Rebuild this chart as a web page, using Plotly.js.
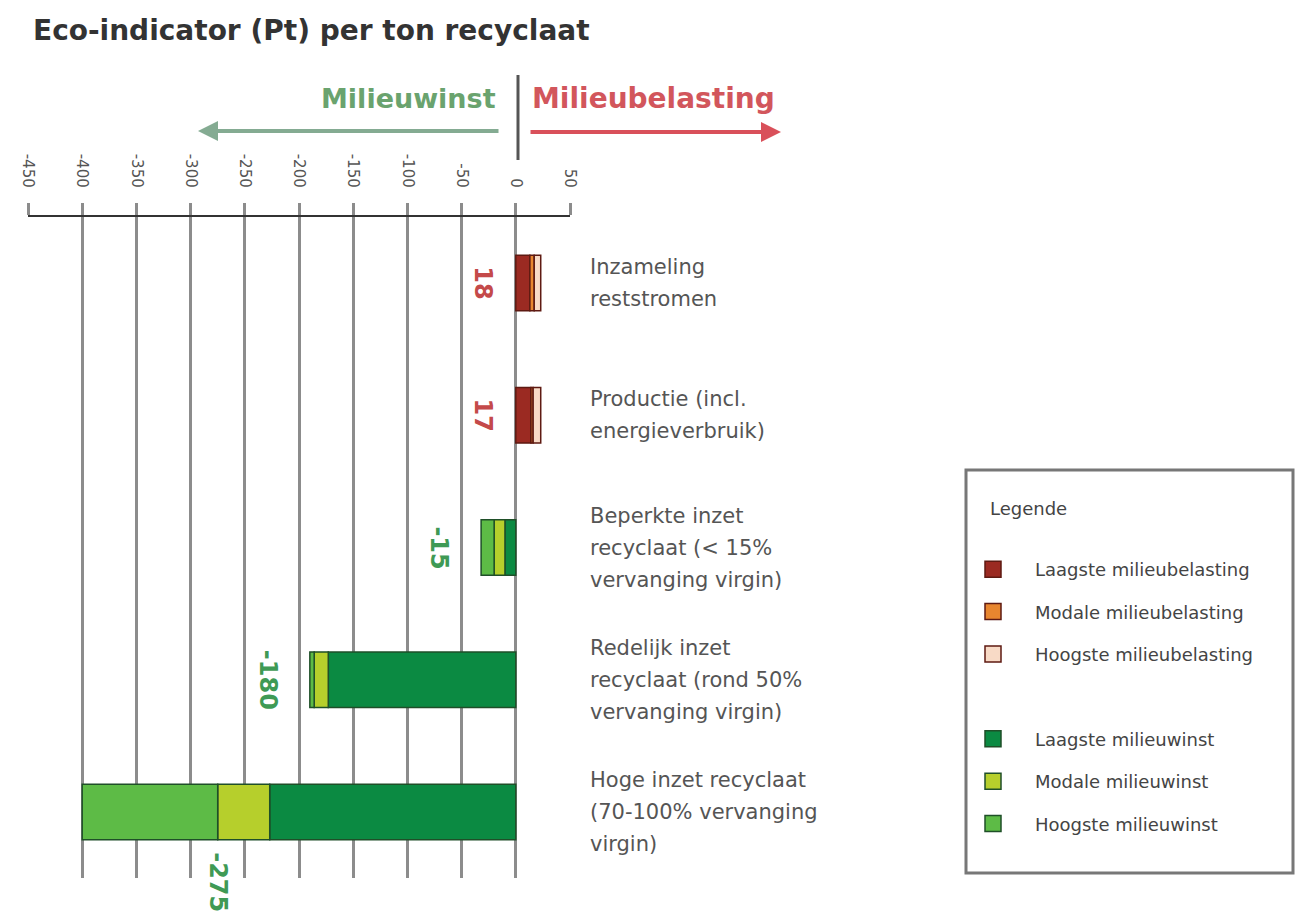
<!DOCTYPE html>
<html>
<head>
<meta charset="utf-8">
<script src="https://cdn.plot.ly/plotly-3.0.1.min.js"></script>
<style>html,body{margin:0;padding:0;background:#fff;}#chart{width:1298px;height:924px;}</style>
</head>
<body>
<div id="chart"></div>
<script>
// ---- data ----
const categories = ['Inzameling reststromen', 'Productie (incl. energieverbruik)', 'Beperkte inzet recyclaat', 'Redelijk inzet recyclaat', 'Hoge inzet recyclaat'];
const categoryLines = [
  ['Inzameling', 'reststromen'],
  ['Productie (incl.', 'energieverbruik)'],
  ['Beperkte inzet', 'recyclaat (< 15%', 'vervanging virgin)'],
  ['Redelijk inzet', 'recyclaat (rond 50%', 'vervanging virgin)'],
  ['Hoge inzet recyclaat', '(70-100% vervanging', 'virgin)']
];
const laagste = [13, 14, -10, -173, -227];   // boundary of lowest estimate
const modaal  = [17, 16, -20, -186, -275];   // boundary of modal estimate
const hoogste = [23, 23, -32, -190, -400];   // boundary of highest estimate
const valueLabels = [18, 17, -15, -180, -275];
const tickValues = [-450, -400, -350, -300, -250, -200, -150, -100, -50, 0, 50];
const tickLabels = ['-450', '-400', '-350', '-300', '-250', '-200', '-150', '-100', '-50', '0', '50'];
const legendNamesRed = ['Laagste milieubelasting', 'Modale milieubelasting', 'Hoogste milieubelasting'];
const legendNamesGreen = ['Laagste milieuwinst', 'Modale milieuwinst', 'Hoogste milieuwinst'];

// ---- styles ----
const W = 1298, H = 924;
const px = v => v / W, py = v => 1 - v / H;
const redColors = ['#9b2a22', '#e8862f', '#f8dac6'];
const greenColors = ['#0b8a42', '#b6cf2c', '#5dbb46'];
const redLine = '#5e1a12', greenLine = '#1f4f28';
const FONT = 'DejaVu Sans';

function segment(idx) {
  const starts = idx === 0 ? laagste.map(() => 0) : (idx === 1 ? laagste : modaal);
  const ends = idx === 0 ? laagste : (idx === 1 ? modaal : hoogste);
  return {starts, lens: ends.map((e, i) => e - starts[i])};
}

const traces = [];
function addGroup(names, colors, lineColor, positive) {
  for (let k = 0; k < 3; k++) {
    const s = segment(k);
    traces.push({
      type: 'bar', orientation: 'h', y: categories,
      x: s.lens.map((v, i) => ((laagste[i] > 0) === positive ? v : null)),
      base: s.starts.map((v, i) => ((laagste[i] > 0) === positive ? v : null)),
      width: 0.42, showlegend: false,
      name: names[k],
      marker: {color: colors[k], line: {color: lineColor, width: 1.5}},
      hoverinfo: 'x+y'
    });
  }
}
function addLegend(names, colors, lineColor) {
  for (let k = 0; k < 3; k++) {
    traces.push({
      type: 'scatter', mode: 'markers', x: [null], y: [null], name: names[k], legendgroup: names[k],
      marker: {symbol: 'square', size: 16, color: colors[k], line: {color: lineColor, width: 1.5}},
      hoverinfo: 'skip'
    });
  }
}
addGroup(legendNamesRed, redColors, redLine, true);
addGroup(legendNamesGreen, greenColors, greenLine, false);
addLegend(legendNamesRed, redColors, redLine);
traces.push({type: 'scatter', mode: 'markers', x: [null], y: [null], name: ' ', legendgroup: 'spacer',
  marker: {color: 'rgba(0,0,0,0)', size: 1, line: {width: 0}}, hoverinfo: 'skip'});
addLegend(legendNamesGreen, greenColors, greenLine);

const annotations = [];
// category labels (right side)
categoryLines.forEach((lines, i) => {
  lines.forEach((t, j) => {
    annotations.push({
      xref: 'paper', yref: 'y', x: px(588), y: categories[i], xanchor: 'left', yanchor: 'middle',
      yshift: -(j - (lines.length - 1) / 2) * 32, text: t, showarrow: false,
      font: {family: FONT, size: 21, color: '#555'}
    });
  });
});
// value labels
valueLabels.forEach((v, i) => {
  const col = v > 0 ? '#c44a4a' : '#3f9a55';
  if (i < valueLabels.length - 1) {
    annotations.push({xref: 'x', yref: 'y', x: Math.min(0, hoogste[i]), y: categories[i], xanchor: 'right', yanchor: 'middle',
      xshift: v > 0 ? -17 : -26, text: '<b>' + v + '</b>', textangle: 90, showarrow: false, font: {family: FONT, size: 24, color: col}});
  } else {
    annotations.push({xref: 'x', yref: 'y', x: v, y: categories[i], xanchor: 'center', yanchor: 'top',
      yshift: -38, text: '<b>' + v + '</b>', textangle: 90, showarrow: false, font: {family: FONT, size: 24, color: col}});
  }
});
// direction texts & arrows
annotations.push({xref: 'paper', yref: 'paper', x: px(498), y: py(98), xanchor: 'right', yanchor: 'middle',
  text: '<b>Milieuwinst</b>', showarrow: false, font: {family: FONT, size: 27, color: '#6aa36e'}});
annotations.push({xref: 'paper', yref: 'paper', x: px(530), y: py(98), xanchor: 'left', yanchor: 'middle',
  text: '<b>Milieubelasting</b>', showarrow: false, font: {family: FONT, size: 28, color: '#d2565c'}});
annotations.push({xref: 'paper', yref: 'paper', x: px(198), y: py(131), ax: 302, ay: 0, text: '', showarrow: true,
  arrowhead: 2, arrowsize: 1, arrowwidth: 4, arrowcolor: '#84ab92', standoff: 0});
annotations.push({xref: 'paper', yref: 'paper', x: px(781), y: py(132), ax: -252, ay: 0, text: '', showarrow: true,
  arrowhead: 2, arrowsize: 1, arrowwidth: 4, arrowcolor: '#d9505a', standoff: 0});
// legend heading
annotations.push({xref: 'paper', yref: 'paper', x: px(988), y: py(508), xanchor: 'left', yanchor: 'middle',
  text: 'Legende', showarrow: false, font: {family: FONT, size: 18, color: '#444'}});

const layout = {
  width: W, height: H,
  margin: {l: 0, r: 0, t: 0, b: 0},
  paper_bgcolor: '#fff', plot_bgcolor: 'rgba(0,0,0,0)',
  barmode: 'overlay',
  title: {text: '<b>Eco-indicator (Pt) per ton recyclaat</b>', xref: 'paper', yref: 'paper', x: px(33), xanchor: 'left',
    y: py(30), yanchor: 'middle', font: {family: FONT, size: 28, color: '#333'}},
  xaxis: {
    domain: [px(28), px(570)], range: [-450, 50], side: 'top',
    tickmode: 'array', tickvals: tickValues, ticktext: tickLabels, tickangle: 90,
    tickfont: {family: FONT, size: 15, color: '#555'}, ticklabelstandoff: 10,
    ticks: 'outside', ticklen: 12, tickwidth: 3, tickcolor: '#8c8c8c',
    showgrid: true, gridcolor: '#8c8c8c', gridwidth: 3,
    showline: true, linecolor: '#333', linewidth: 2, zeroline: false,
    automargin: false, fixedrange: true
  },
  yaxis: {
    domain: [py(878), py(217)], type: 'category', categoryarray: categories, range: [4.5, -0.5],
    showticklabels: false, showgrid: false, zeroline: false, showline: false, automargin: false, fixedrange: true
  },
  showlegend: true,
  legend: {
    x: px(951), y: py(551), xanchor: 'left', yanchor: 'top',
    bgcolor: 'rgba(0,0,0,0)', borderwidth: 0,
    font: {family: FONT, size: 18, color: '#444'},
    traceorder: 'grouped', tracegroupgap: 16, itemwidth: 74, itemsizing: 'trace'
  },
  shapes: [
    {type: 'line', xref: 'paper', yref: 'paper', x0: px(518), x1: px(518), y0: py(75), y1: py(160),
      line: {color: '#555', width: 3}},
    {type: 'rect', xref: 'paper', yref: 'paper', x0: px(966), x1: px(1293), y0: py(873), y1: py(470),
      line: {color: '#777', width: 3}}
  ],
  annotations: annotations
};

Plotly.newPlot('chart', traces, layout, {displayModeBar: false, staticPlot: true});
</script>
</body>
</html>
